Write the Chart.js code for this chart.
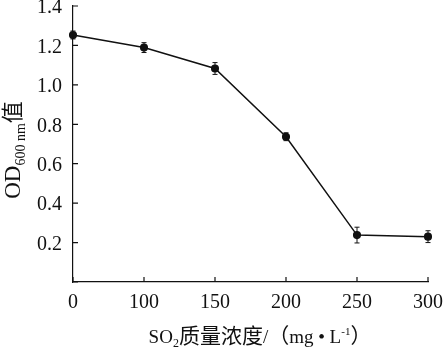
<!DOCTYPE html>
<html>
<head>
<meta charset="utf-8">
<script src="https://cdn.jsdelivr.net/npm/chart.js@4.4.0/dist/chart.umd.min.js"></script>
<style>
    html, body { margin: 0; padding: 0; background: #fff; }
    #wrap { width: 445px; height: 350px; }
</style>
</head>
<body>
<div id="wrap"><canvas id="odChart"></canvas></div>
<script>
const concentrations = ['0', '100', '150', '200', '250', '300'];
const odValues = [1.253, 1.189, 1.083, 0.737, 0.238, 0.230];
const odErrors = [0.02, 0.025, 0.03, 0.02, 0.04, 0.03];
const yMin = 0;
const yMax = 1.4;
const yStep = 0.2;

const FONT = '"Liberation Serif", "Noto Sans CJK SC", serif';
const CJK = '"Noto Sans CJK SC", sans-serif';
const INK = '#111';

// error bars + inward ticks + axis titles with sub/superscripts
const extrasPlugin = {
    id: 'extras',
    afterDatasetsDraw(chart) {
        const ctx = chart.ctx;
        const x = chart.scales.x;
        const y = chart.scales.y;
        ctx.save();
        ctx.strokeStyle = INK;
        ctx.lineWidth = 1;
        odValues.forEach((v, i) => {
            const px = x.getPixelForValue(i);
            const top = y.getPixelForValue(v + odErrors[i]);
            const bot = y.getPixelForValue(v - odErrors[i]);
            ctx.beginPath();
            ctx.moveTo(px, top); ctx.lineTo(px, bot);
            ctx.moveTo(px - 2.5, top); ctx.lineTo(px + 2.5, top);
            ctx.moveTo(px - 2.5, bot); ctx.lineTo(px + 2.5, bot);
            ctx.stroke();
        });
        ctx.restore();
    },
    afterDraw(chart) {
        const ctx = chart.ctx;
        const x = chart.scales.x;
        const y = chart.scales.y;
        const area = chart.chartArea;
        ctx.save();
        ctx.strokeStyle = INK;
        ctx.lineWidth = 1.2;
        ctx.beginPath();
        y.ticks.forEach((t, i) => {
            const py = y.getPixelForTick(i);
            ctx.moveTo(area.left, py);
            ctx.lineTo(area.left + 5, py);
        });
        x.ticks.forEach((t, i) => {
            const px = x.getPixelForTick(i);
            ctx.moveTo(px, area.bottom);
            ctx.lineTo(px, area.bottom - 5);
        });
        ctx.stroke();

        ctx.fillStyle = INK;
        ctx.textBaseline = 'alphabetic';

        // x title: SO2质量浓度/（mg • L-1）
        const xParts = [
            { t: 'SO', f: `19px ${FONT}`, dy: 0 },
            { t: '2', f: `12px ${FONT}`, dy: 4 },
            { t: '质量浓度', f: `21px ${CJK}`, dy: 0 },
            { t: '/', f: `19px ${FONT}`, dy: 0 },
            { t: '（', f: `21px ${CJK}`, dy: 0 },
            { t: 'mg • L', f: `19px ${FONT}`, dy: 0 },
            { t: '-1', f: `11px ${FONT}`, dy: -8 },
            { t: '）', f: `21px ${CJK}`, dy: 0 }
        ];
        drawParts(ctx, xParts, 260, 343);

        // y title: OD600 nm值 rotated
        ctx.translate(20, 150);
        ctx.rotate(-Math.PI / 2);
        const yParts = [
            { t: 'OD', f: `23px ${FONT}`, dy: 0 },
            { t: '600 nm', f: `14px ${FONT}`, dy: 5 },
            { t: '值', f: `22px ${CJK}`, dy: 0 }
        ];
        drawParts(ctx, yParts, 0, 0);
        ctx.restore();
    }
};

function drawParts(ctx, parts, cx, baseY) {
    let total = 0;
    parts.forEach(p => {
        ctx.font = p.f;
        p.w = ctx.measureText(p.t).width;
        total += p.w;
    });
    let cur = cx - total / 2;
    ctx.textAlign = 'left';
    parts.forEach(p => {
        ctx.font = p.f;
        ctx.fillText(p.t, cur, baseY + p.dy);
        cur += p.w;
    });
}

new Chart(document.getElementById('odChart'), {
    type: 'line',
    data: {
        labels: concentrations,
        datasets: [{
            data: odValues,
            borderColor: INK,
            borderWidth: 1.5,
            pointRadius: 3.3,
            pointBackgroundColor: INK,
            pointBorderColor: INK,
            tension: 0,
            fill: false
        }]
    },
    options: {
        responsive: true,
        maintainAspectRatio: false,
        animation: false,
        layout: { padding: { top: 6, right: 17, left: 0, bottom: 0 } },
        plugins: {
            legend: { display: false },
            tooltip: { enabled: false }
        },
        scales: {
            x: {
                offset: false,
                grid: { display: false, drawTicks: false },
                border: { display: true, color: INK, width: 1.2 },
                ticks: {
                    color: INK,
                    font: { family: FONT, size: 20 },
                    padding: 9,
                    maxRotation: 0
                },
                afterFit(scale) {
                    scale.height = 68;
                    scale.paddingRight = 0;
                    scale.paddingLeft = 0;
                }
            },
            y: {
                min: yMin,
                max: yMax,
                grid: { display: false, drawTicks: false },
                border: { display: true, color: INK, width: 1.2 },
                ticks: {
                    stepSize: yStep,
                    color: INK,
                    font: { family: FONT, size: 20 },
                    padding: 11,
                    labelOffset: 2,
                    callback: v => (Math.abs(v) < 1e-9 ? '' : v.toFixed(1))
                },
                afterFit(scale) {
                    scale.width = 73;
                    scale.paddingTop = 0;
                    scale.paddingBottom = 0;
                }
            }
        }
    },
    plugins: [extrasPlugin]
});
</script>
</body>
</html>
